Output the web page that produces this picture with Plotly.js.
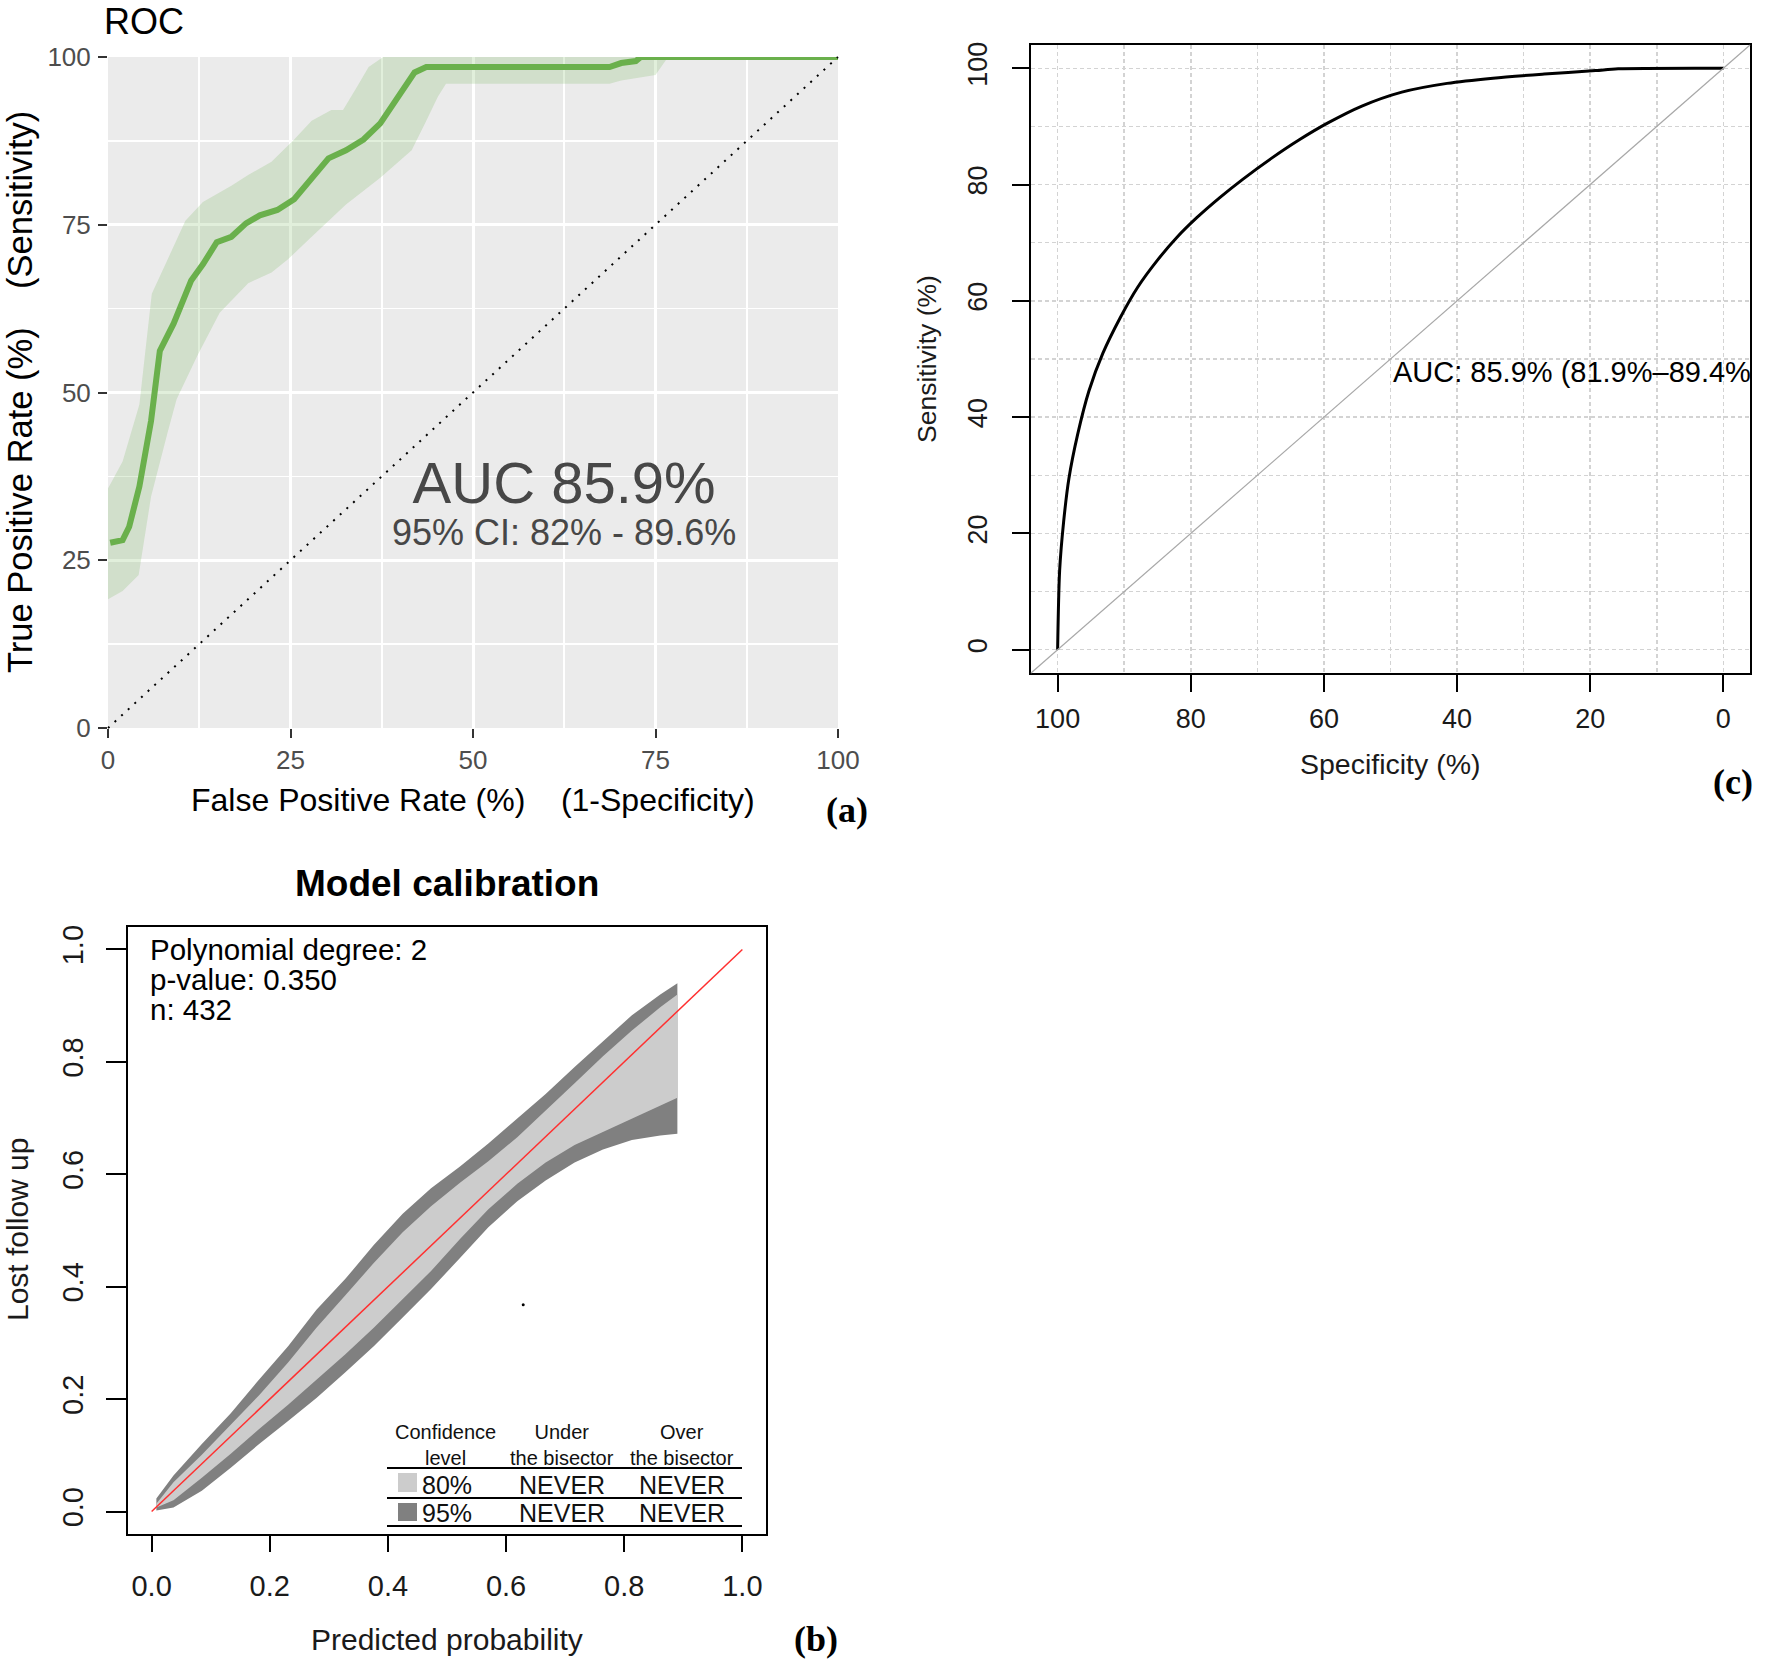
<!DOCTYPE html>
<html>
<head>
<meta charset="utf-8">
<script src="https://cdn.plot.ly/plotly-3.0.1.min.js"></script>
<style>html,body{margin:0;padding:0;background:#fff;}</style>
</head>
<body>
<div id="chart" style="width:1770px;height:1660px;"></div>
<script>
// ---------- Panel (a): ROC with confidence band ----------
const rocFpr = [0.3,2,2.9,4.3,5.9,7.1,9,11.4,13,14.9,16.9,18.9,20.8,23.2,25.5,27.9,30.2,32.6,35,37.3,39.7,42,43.6,68.7,70.3,72.3,73,100];
const rocTpr = [27.6,28,30,36,45.8,56.2,60.3,66.7,69.1,72.4,73.2,75.2,76.4,77.2,78.8,82,84.9,86.1,87.7,90.1,94.1,97.7,98.5,98.5,99.1,99.4,100,100];
const ciUpX = [0,2,4.3,6,8.2,10.6,13,16.9,19.2,22.4,25.5,27.9,30.6,32.2,34.2,35.7,37.7,100];
const ciUpY = [35.7,39.7,48.2,64.7,69.9,75.6,78.4,80.8,82.4,84.4,87.7,90.5,92.1,92.1,95.7,98.5,100,100];
const ciLoX = [0,2,4.2,5.9,8.2,9.4,12.2,15.3,19.2,22.4,24.7,27.9,32.6,37.3,41.6,43.6,45.2,46.3,68.7,70.3,75,76.6,77.4,100];
const ciLoY = [19.2,20.4,22.8,34.5,44.2,49,55.4,61.9,66.3,67.9,69.9,73.2,78,82,86.1,90.5,94.1,96,96,96.5,97.3,99.8,100,100];
const ticksA = [0,25,50,75,100];

// ---------- Panel (c): smooth ROC ----------
const rocSpec = [100,99.7,99.1,98.3,97,95.3,93.2,90.6,88,85,82.1,79.1,75.6,72.2,67.9,63.7,59.4,54.3,48.3,41.5,34.6,26.9,19.2,15.8,0];
const rocSens = [0,13.6,22,29.5,37,44.5,51,57.1,62.3,67,70.9,74.3,77.8,80.9,84.5,87.7,90.6,93.5,95.9,97.4,98.3,99.0,99.6,99.9,100];
const ticksC = [0,20,40,60,80,100];

// ---------- Panel (b): calibration belt ----------
const calX  = [0.008,0.037,0.085,0.134,0.182,0.231,0.279,0.328,0.376,0.425,0.473,0.522,0.570,0.619,0.667,0.716,0.764,0.813,0.861,0.890];
const up95  = [0.023,0.064,0.120,0.175,0.235,0.294,0.359,0.414,0.474,0.530,0.575,0.614,0.655,0.699,0.743,0.791,0.837,0.883,0.920,0.940];
const lo95  = [0.002,0.007,0.037,0.078,0.120,0.161,0.202,0.248,0.294,0.345,0.396,0.451,0.506,0.552,0.589,0.621,0.644,0.661,0.669,0.672];
const up80  = [0.014,0.052,0.101,0.155,0.207,0.265,0.327,0.385,0.442,0.497,0.543,0.585,0.623,0.666,0.713,0.762,0.810,0.856,0.897,0.920];
const lo80  = [0.007,0.020,0.060,0.103,0.147,0.190,0.235,0.280,0.327,0.378,0.428,0.485,0.538,0.583,0.621,0.652,0.676,0.700,0.722,0.736];
const strayX = [0.629], strayY = [0.368];
const ticksB = [0,0.2,0.4,0.6,0.8,1.0];
const tableRows = ['80%','95%'];
const tableCols = ['Under<br>the bisector','Over<br>the bisector'];
const tableVals = [['NEVER','NEVER'],['NEVER','NEVER']];

// ---------- helpers (page pixel -> paper) ----------
const W = 1770, H = 1660;
const px = x => x / W;
const py = y => 1 - y / H;
const SANS = 'Liberation Sans, Arial, sans-serif';
const SERIF = 'Liberation Serif, Times New Roman, serif';

const poly = (xs, top, bot) => ({
  x: xs.concat(xs.slice().reverse()),
  y: top.concat(bot.slice().reverse())
});

const bandA = {x: ciUpX.concat(ciLoX.slice().reverse()), y: ciUpY.concat(ciLoY.slice().reverse())};
const belt95 = poly(calX, up95, lo95);
const belt80 = poly(calX, up80, lo80);

const traces = [
  {type:'scatter', mode:'lines', x:bandA.x, y:bandA.y, fill:'toself', fillcolor:'rgba(106,176,76,0.2)',
   line:{width:0}, xaxis:'x', yaxis:'y', hoverinfo:'skip'},
  {type:'scatter', mode:'lines', x:rocFpr, y:rocTpr, line:{color:'#6ab04c', width:6}, xaxis:'x', yaxis:'y'},
  {type:'scatter', mode:'lines', x:rocSpec, y:rocSens, line:{color:'#000', width:3, shape:'spline', smoothing:0.8}, xaxis:'x2', yaxis:'y2'},
  {type:'scatter', mode:'lines', x:belt95.x, y:belt95.y, fill:'toself', fillcolor:'#808080', line:{width:0}, xaxis:'x3', yaxis:'y3', hoverinfo:'skip'},
  {type:'scatter', mode:'lines', x:belt80.x, y:belt80.y, fill:'toself', fillcolor:'#cccccc', line:{width:0}, xaxis:'x3', yaxis:'y3', hoverinfo:'skip'},
  {type:'scatter', mode:'markers', x:strayX, y:strayY, marker:{color:'#000', size:3}, xaxis:'x3', yaxis:'y3'}
];

const gridC = {showgrid:true, gridcolor:'#d3d3d3', gridwidth:1.5, griddash:'4px,3px'};

const layout = {
  width: W, height: H,
  margin: {l:0, r:0, t:0, b:0},
  paper_bgcolor: '#fff', plot_bgcolor: 'rgba(0,0,0,0)',
  showlegend: false,
  font: {family: SANS, color: '#000'},
  // (a)
  xaxis: {domain:[px(108), px(838)], anchor:'y', range:[0,100], tickvals:ticksA,
          ticks:'outside', ticklen:9, tickwidth:2, tickcolor:'#333',
          tickfont:{size:26, color:'#4d4d4d'}, ticklabelstandoff:0,
          showgrid:true, gridcolor:'#fff', gridwidth:3,
          minor:{dtick:12.5, tick0:0, showgrid:true, gridcolor:'#fff', gridwidth:1.6, ticks:''},
          zeroline:false, showline:false, fixedrange:true},
  yaxis: {domain:[py(728), py(57)], anchor:'x', range:[0,100], tickvals:ticksA,
          ticks:'outside', ticklen:9, tickwidth:2, tickcolor:'#333',
          tickfont:{size:26, color:'#4d4d4d'}, ticklabelstandoff:2,
          showgrid:true, gridcolor:'#fff', gridwidth:3,
          minor:{dtick:12.5, tick0:0, showgrid:true, gridcolor:'#fff', gridwidth:1.6, ticks:''},
          zeroline:false, showline:false, fixedrange:true},
  // (c)
  xaxis2: Object.assign({domain:[px(1031), px(1750)], anchor:'y2', range:[104,-4], tickvals:ticksC,
          ticks:'outside', ticklen:17, tickwidth:2, tickcolor:'#000',
          tickfont:{size:27, color:'#1a1a1a'}, ticklabelstandoff:4,
          showline:true, mirror:true, linecolor:'#000', linewidth:2, zeroline:false,
          minor:Object.assign({dtick:10, tick0:0, ticks:''}, gridC)}, gridC),
  yaxis2: Object.assign({domain:[py(673), py(45)], anchor:'x2', range:[-4,104], tickvals:ticksC,
          ticks:'outside', ticklen:17, tickwidth:2, tickcolor:'#000', tickangle:-90,
          tickfont:{size:27, color:'#1a1a1a'}, ticklabelstandoff:14,
          showline:true, mirror:true, linecolor:'#000', linewidth:2, zeroline:false,
          minor:Object.assign({dtick:10, tick0:0, ticks:''}, gridC)}, gridC),
  // (b)
  xaxis3: {domain:[px(128), px(766)], anchor:'y3', range:[-0.04,1.04], tickvals:ticksB, tickformat:'.1f',
          ticks:'outside', ticklen:16, tickwidth:2, tickcolor:'#000',
          tickfont:{size:29, color:'#1a1a1a'}, ticklabelstandoff:9,
          showline:true, mirror:true, linecolor:'#000', linewidth:2, showgrid:false, zeroline:false},
  yaxis3: {domain:[py(1534), py(927)], anchor:'x3', range:[-0.04,1.04], tickvals:ticksB, tickformat:'.1f',
          ticks:'outside', ticklen:20, tickwidth:2, tickcolor:'#000', tickangle:-90,
          tickfont:{size:29, color:'#1a1a1a'}, ticklabelstandoff:11,
          showline:true, mirror:true, linecolor:'#000', linewidth:2, showgrid:false, zeroline:false},
  shapes: [
    {type:'rect', xref:'x domain', yref:'y domain', x0:0, x1:1, y0:0, y1:1, fillcolor:'#ebebeb', line:{width:0}, layer:'below'},
    {type:'line', xref:'x domain', yref:'y domain', x0:0, y0:0, x1:1, y1:1, line:{color:'#000', width:2, dash:'2px,7px'}},
    {type:'line', xref:'x2 domain', yref:'y2 domain', x0:0, y0:0, x1:1, y1:1, line:{color:'#a8a8a8', width:1.2}},
    {type:'line', xref:'x3', yref:'y3', x0:0, y0:0, x1:1, y1:1, line:{color:'#ff3030', width:1.5}},
    // legend table rules
    {type:'line', xref:'paper', yref:'paper', x0:px(387), x1:px(742), y0:py(1468), y1:py(1468), line:{color:'#000', width:2}},
    {type:'line', xref:'paper', yref:'paper', x0:px(387), x1:px(742), y0:py(1498), y1:py(1498), line:{color:'#000', width:2}},
    {type:'line', xref:'paper', yref:'paper', x0:px(387), x1:px(742), y0:py(1526), y1:py(1526), line:{color:'#000', width:2}},
    {type:'rect', xref:'paper', yref:'paper', x0:px(398), x1:px(417), y0:py(1492), y1:py(1473), fillcolor:'#cccccc', line:{width:0}},
    {type:'rect', xref:'paper', yref:'paper', x0:px(398), x1:px(417), y0:py(1521), y1:py(1503), fillcolor:'#808080', line:{width:0}}
  ],
  annotations: []
};

const A = layout.annotations;
function note(text, x, y, opts) {
  A.push(Object.assign({text:text, x:px(x), y:py(y), xref:'paper', yref:'paper', showarrow:false,
    xanchor:'center', yanchor:'middle', font:{family:SANS, size:28, color:'#000'}}, opts || {}));
}
const NB = '\u00a0\u00a0\u00a0\u00a0';
// (a)
note('ROC', 103, 0, {xanchor:'left', yanchor:'top', borderpad:0, font:{family:SANS, size:36, color:'#000'}});
note('False Positive Rate (%)' + NB + '(1-Specificity)', 473, 800, {font:{family:SANS, size:32, color:'#000'}});
note('True Positive Rate (%)' + NB + '(Sensitivity)', 20, 392, {textangle:-90, font:{family:SANS, size:34.5, color:'#000'}});
A.push({text:'<span style="font-size:58px">AUC 85.9%</span><br><span style="font-size:36px">95% CI: 82% - 89.6%</span>',
        x:62.5, y:33.7, xref:'x', yref:'y',
        showarrow:false, borderpad:0, font:{family:SANS, size:32, color:'#474747'}});
note('<b>(a)</b>', 847, 810, {font:{family:SERIF, size:36, color:'#000'}});
// (c)
A.push({text:'AUC: 85.9% (81.9%\u201389.4%', x:50, y:50, xref:'x2', yref:'y2', xanchor:'left', yanchor:'top', yshift:5, showarrow:false,
        font:{family:SANS, size:29, color:'#000'}});
note('Specificity (%)', 1390, 764, {font:{family:SANS, size:28.5, color:'#1a1a1a'}});
note('Sensitivity (%)', 927, 359, {textangle:-90, font:{family:SANS, size:26.5, color:'#1a1a1a'}});
note('<b>(c)</b>', 1733, 782, {font:{family:SERIF, size:36, color:'#000'}});
// (b)
note('<b>Model calibration</b>', 447, 883, {font:{family:SANS, size:37, color:'#000'}});
note('Predicted probability', 447, 1639, {font:{family:SANS, size:30, color:'#1a1a1a'}});
note('Lost follow up', 17, 1230, {textangle:-90, font:{family:SANS, size:30, color:'#1a1a1a'}});
note('Polynomial degree: 2', 148, 949, {xanchor:'left', font:{family:SANS, size:29.5, color:'#000'}});
note('p-value: 0.350', 148, 979, {xanchor:'left', font:{family:SANS, size:29.5, color:'#000'}});
note('n: 432', 148, 1009, {xanchor:'left', font:{family:SANS, size:29.5, color:'#000'}});
note('<b>(b)</b>', 816, 1639, {font:{family:SERIF, size:36, color:'#000'}});
// legend table
const hdr = {family:SANS, size:20, color:'#111'};
note('Confidence<br>level', 445, 1445, {font:hdr});
note(tableCols[0], 562, 1445, {font:hdr});
note(tableCols[1], 682, 1445, {font:hdr});
const rowY = [1485, 1513];
tableRows.forEach((r, i) => {
  note(r, 420, rowY[i], {xanchor:'left', font:{family:SANS, size:25, color:'#111'}});
  note(tableVals[i][0], 562, rowY[i], {font:{family:SANS, size:25, color:'#111'}});
  note(tableVals[i][1], 682, rowY[i], {font:{family:SANS, size:25, color:'#111'}});
});

Plotly.newPlot('chart', traces, layout, {staticPlot:true, displayModeBar:false});
</script>
</body>
</html>
